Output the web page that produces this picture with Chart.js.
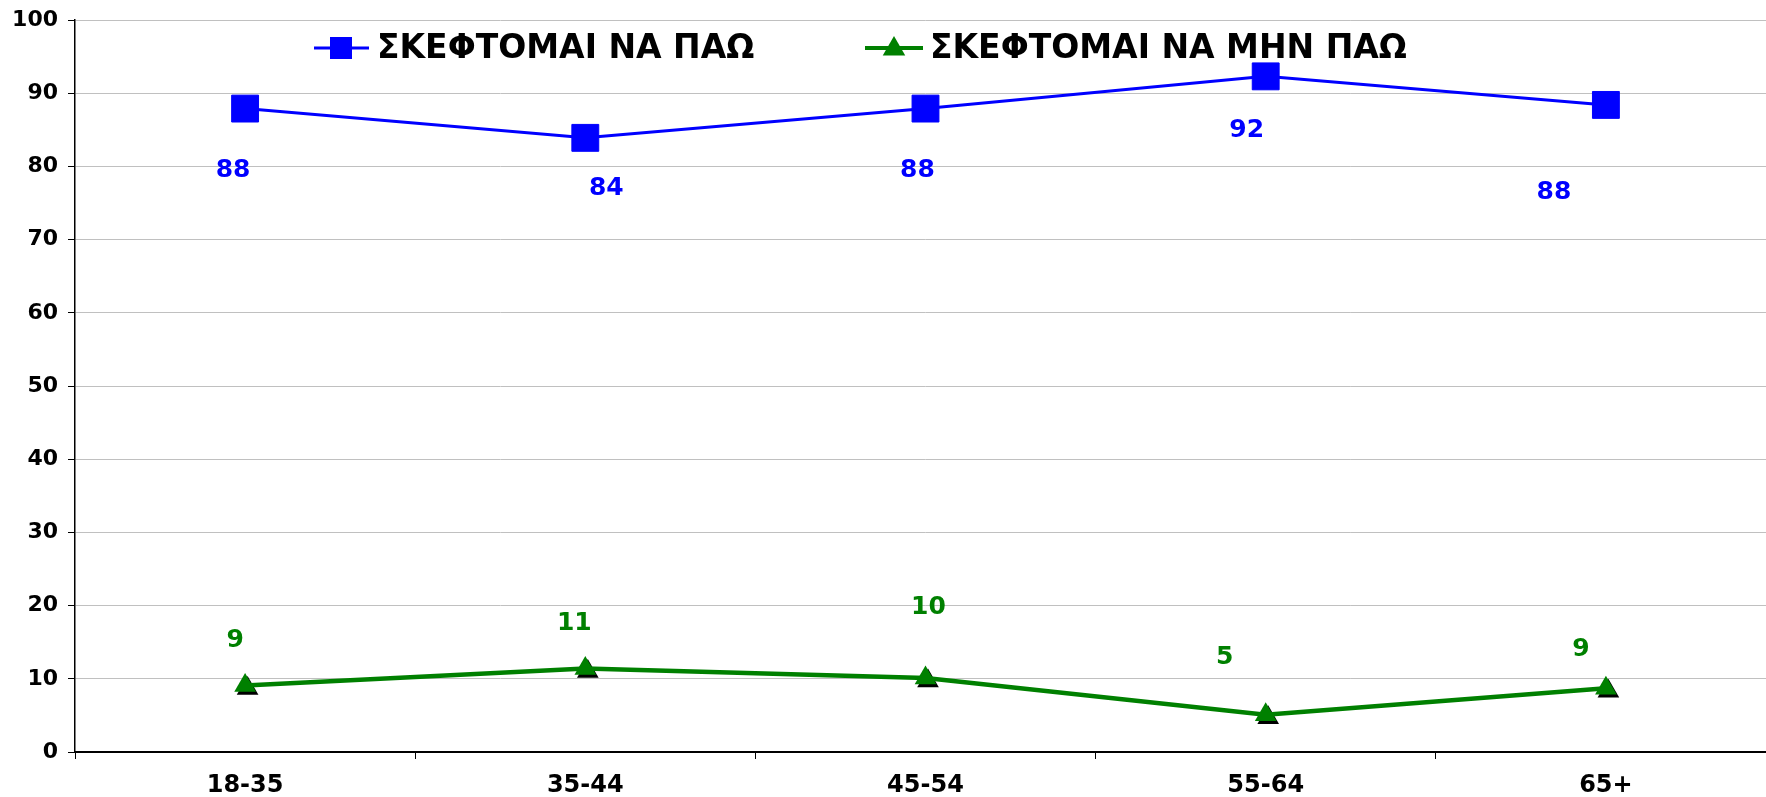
<!DOCTYPE html>
<html>
<head>
<meta charset="utf-8">
<script src="https://cdn.jsdelivr.net/npm/chart.js@4/dist/chart.umd.min.js"></script>
<style>
  html, body { margin: 0; padding: 0; background: #fff; overflow: hidden; }
  #c { position: absolute; left: 0; top: 0; width: 1796px; height: 797px; }
</style>
</head>
<body>
<canvas id="c" width="1796" height="797"></canvas>
<script>
// ---- data ----
const categories = ['18-35', '35-44', '45-54', '55-64', '65+'];
const seriesGoName = 'ΣΚΕΦΤΟΜΑΙ ΝΑ ΠΑΩ';
const seriesGoValues = [87.9, 83.9, 87.9, 92.3, 88.4];
const seriesNotGoName = 'ΣΚΕΦΤΟΜΑΙ ΝΑ ΜΗΝ ΠΑΩ';
const seriesNotGoValues = [9.1, 11.4, 10.1, 5.1, 8.7];
const yTickMin = 0, yTickMax = 100, yTickStep = 10;

// ---- style / layout (not data) ----
const FONT = "'DejaVu Sans', Verdana, sans-serif";
const BLUE = '#0000FF', GREEN = '#008000';
const goLabelOffsets = [[-12, 62], [21, 51], [-8, 62], [-19, 54], [-52, 88]];
const notGoLabelOffsets = [[-10, -45], [-11, -45], [3, -71], [-41, -57], [-25, -39]];
const TRI_R = 12.5;

const labelPlugin = {
  id: 'pointLabels',
  beforeDatasetDraw(chart, args) {
    if (args.index !== 1) return;
    const ctx = chart.ctx;
    const meta = chart.getDatasetMeta(1);
    const r = TRI_R;
    ctx.save();
    ctx.fillStyle = '#000';
    meta.data.forEach(p => {
      const x = p.x + 2.5, y = p.y + 3;
      ctx.beginPath();
      ctx.moveTo(x, y - r);
      ctx.lineTo(x + r * 0.866, y + r / 2);
      ctx.lineTo(x - r * 0.866, y + r / 2);
      ctx.closePath();
      ctx.fill();
    });
    ctx.restore();
  },
  afterDatasetsDraw(chart) {
    const ctx = chart.ctx;
    ctx.save();
    ctx.font = 'bold 25px ' + FONT;
    ctx.textAlign = 'center';
    ctx.textBaseline = 'middle';
    const sets = [[0, goLabelOffsets, BLUE], [1, notGoLabelOffsets, GREEN]];
    sets.forEach(([di, offs, col]) => {
      const meta = chart.getDatasetMeta(di);
      const vals = chart.data.datasets[di].data;
      ctx.fillStyle = col;
      meta.data.forEach((p, i) => {
        ctx.fillText(String(Math.round(vals[i])), p.x + offs[i][0], p.y + offs[i][1]);
      });
    });
    ctx.restore();
  }
};

const legendPlugin = {
  id: 'customLegend',
  afterDraw(chart) {
    const ctx = chart.ctx;
    const cy = 48;
    ctx.save();
    // blue item
    ctx.strokeStyle = BLUE; ctx.lineWidth = 3;
    ctx.beginPath(); ctx.moveTo(314, cy); ctx.lineTo(369, cy); ctx.stroke();
    ctx.fillStyle = BLUE;
    ctx.fillRect(341 - 11, cy - 11, 22, 22);
    // green item
    ctx.strokeStyle = GREEN; ctx.lineWidth = 4;
    ctx.beginPath(); ctx.moveTo(865, cy); ctx.lineTo(923, cy); ctx.stroke();
    ctx.fillStyle = GREEN;
    const r = 13, tx = 894, ty = cy + 1;
    ctx.beginPath();
    ctx.moveTo(tx, ty - r);
    ctx.lineTo(tx + r * 0.866, ty + r / 2);
    ctx.lineTo(tx - r * 0.866, ty + r / 2);
    ctx.closePath(); ctx.fill();
    // texts
    ctx.fillStyle = '#000';
    ctx.font = 'bold 33px ' + FONT;
    ctx.textAlign = 'left';
    ctx.textBaseline = 'middle';
    ctx.fillText(chart.data.datasets[0].label, 377, cy + 1);
    ctx.fillText(chart.data.datasets[1].label, 930, cy + 1);
    ctx.restore();
  }
};

new Chart(document.getElementById('c'), {
  type: 'line',
  data: {
    labels: categories,
    datasets: [
      {
        label: seriesGoName,
        data: seriesGoValues,
        borderColor: BLUE,
        backgroundColor: BLUE,
        borderWidth: 3,
        pointStyle: 'rect',
        pointRadius: 19,
        pointHoverRadius: 19,
        pointBorderWidth: 1,
        pointBackgroundColor: BLUE,
        pointBorderColor: BLUE,
        tension: 0,
        fill: false
      },
      {
        label: seriesNotGoName,
        data: seriesNotGoValues,
        borderColor: GREEN,
        backgroundColor: GREEN,
        borderWidth: 4.5,
        pointStyle: 'triangle',
        pointRadius: TRI_R,
        pointHoverRadius: TRI_R,
        pointBorderWidth: 0,
        pointBackgroundColor: GREEN,
        pointBorderColor: GREEN,
        tension: 0,
        fill: false
      }
    ]
  },
  options: {
    responsive: false,
    maintainAspectRatio: false,
    devicePixelRatio: 1,
    animation: false,
    events: [],
    layout: { padding: { left: 0, top: 19, right: 4, bottom: 0 } },
    plugins: {
      legend: { display: false },
      title: { display: false },
      tooltip: { enabled: false }
    },
    scales: {
      x: {
        type: 'category',
        offset: true,
        afterFit(scale) { scale.height = 45; },
        grid: {
          display: true,
          drawOnChartArea: false,
          drawTicks: true,
          offset: true,
          tickLength: 7,
          tickColor: '#000',
          tickWidth: 1
        },
        border: { display: true, color: '#000', width: 2 },
        ticks: {
          color: '#000',
          font: { family: FONT, weight: 'bold', size: 24 },
          padding: 12,
          maxRotation: 0,
          autoSkip: false
        }
      },
      y: {
        min: yTickMin,
        max: yTickMax,
        afterFit(scale) { scale.width = 75; },
        grid: {
          color: '#c0c0c0',
          lineWidth: 1,
          drawTicks: true,
          tickLength: 7,
          tickColor: '#000',
          tickWidth: 1
        },
        border: { display: true, color: '#000', width: 1.5 },
        ticks: {
          stepSize: yTickStep,
          color: '#000',
          font: { family: FONT, weight: 'bold', size: 22, lineHeight: 0.8 },
          padding: 10
        }
      }
    }
  },
  plugins: [labelPlugin, legendPlugin]
});
</script>
</body>
</html>
